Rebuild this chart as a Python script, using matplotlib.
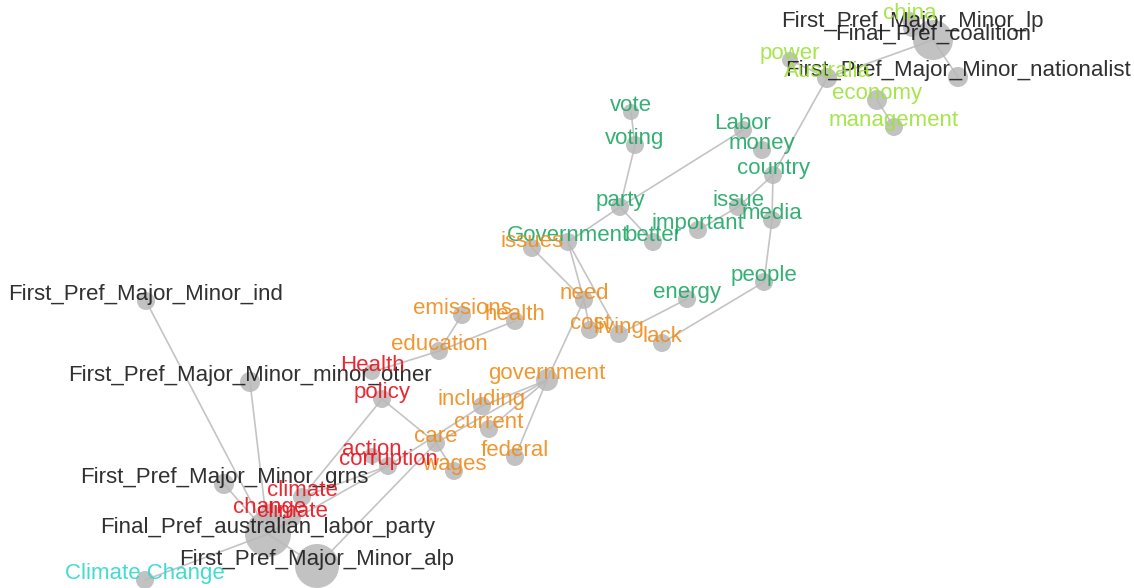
import matplotlib
matplotlib.use("Agg")
import matplotlib.pyplot as plt

plt.rcParams['font.family'] = ['Liberation Sans', 'DejaVu Sans']

# node ids, labels, layout coordinates, node radius and colour group
node_ids = ["lp", "coalition", "nationalist", "ind", "minor_other", "grns", "labor_party", "alp",
            "china", "power", "Australia", "economy", "management",
            "vote", "voting", "Labor", "money", "country", "party", "issue", "media", "important",
            "better", "Government", "people", "energy",
            "issues", "need", "cost", "living", "lack", "emissions", "health", "education",
            "government", "including", "current", "care", "federal", "wages",
            "Health", "policy", "action", "corruption", "climate", "change", "climate2",
            "ClimateChange"]
node_labels = ["First_Pref_Major_Minor_lp", "Final_Pref_coalition", "First_Pref_Major_Minor_nationalist",
               "First_Pref_Major_Minor_ind", "First_Pref_Major_Minor_minor_other",
               "First_Pref_Major_Minor_grns", "Final_Pref_australian_labor_party",
               "First_Pref_Major_Minor_alp",
               "china", "power", "Australia", "economy", "management",
               "vote", "voting", "Labor", "money", "country", "party", "issue", "media", "important",
               "better", "Government", "people", "energy",
               "issues", "need", "cost", "living", "lack", "emissions", "health", "education",
               "government", "including", "current", "care", "federal", "wages",
               "Health", "policy", "action", "corruption", "climate", "change", "climate",
               "Climate Change"]
node_x = [912, 933, 958, 146, 250, 224, 268, 317,
          910, 790, 827, 877, 894,
          631, 635, 743, 762, 773, 620, 738, 772, 698, 653, 568, 764, 687,
          532, 584, 590, 619, 662, 462, 515, 439, 547, 482, 489, 436, 515, 454,
          372, 382, 372, 388, 302, 270, 292,
          145]
node_y = [28, 40, 77, 301, 382, 484, 534, 566,
          20, 60, 78, 100, 127,
          112, 145, 130, 150, 175, 207, 207, 220, 230, 242, 242, 282, 299,
          248, 300, 330, 334, 343, 315, 321, 351, 380, 406, 429, 443, 457, 471,
          372, 399, 456, 466, 497, 514, 518,
          580]
node_r = [9, 20, 10, 9, 10, 10, 23, 22,
          8, 8, 10, 10, 9,
          8, 9, 9, 9, 9, 9, 9, 9, 9, 9, 9, 9, 9,
          9, 9, 9, 9, 9, 9, 9, 9, 11, 9, 9, 9, 9, 9,
          8, 9, 8, 9, 9, 10, 9,
          9]
node_group = ["meta"] * 8 + ["lightgreen"] * 5 + ["green"] * 13 + ["orange"] * 14 + ["red"] * 7 + ["cyan"]

edges = [("coalition", "lp"), ("coalition", "nationalist"), ("coalition", "Australia"),
         ("coalition", "china"), ("Australia", "power"), ("Australia", "country"),
         ("economy", "management"),
         ("vote", "voting"), ("voting", "party"), ("party", "Labor"), ("party", "better"),
         ("party", "Government"), ("country", "media"), ("media", "people"),
         ("people", "lack"), ("important", "issue"), ("issue", "country"),
         ("Government", "need"), ("Government", "living"), ("issues", "need"),
         ("need", "cost"), ("need", "government"), ("living", "energy"),
         ("emissions", "education"), ("education", "health"), ("education", "Health"),
         ("government", "federal"), ("government", "current"), ("government", "including"),
         ("government", "care"), ("policy", "care"), ("care", "wages"), ("alp", "care"),
         ("corruption", "including"), ("climate", "corruption"), ("policy", "climate"),
         ("action", "corruption"),
         ("ind", "labor_party"), ("minor_other", "labor_party"), ("grns", "labor_party"),
         ("ClimateChange", "labor_party"), ("labor_party", "alp"), ("change", "labor_party"),
         ("climate2", "labor_party"), ("labor_party", "corruption")]

colours = {"meta": "#1a1a1a", "lightgreen": "#9de33a", "green": "#1fa866",
           "orange": "#f08c1c", "red": "#e8121c", "cyan": "#2fd8cc"}

DPI = 100
fig = plt.figure(figsize=(11.34, 5.88), dpi=DPI)
ax = fig.add_axes([0, 0, 1, 1])
ax.set_xlim(0, 1134)
ax.set_ylim(588, 0)
ax.axis("off")

pos = {n: (x, y) for n, x, y in zip(node_ids, node_x, node_y)}

# edges
for a, b in edges:
    ax.plot([pos[a][0], pos[b][0]], [pos[a][1], pos[b][1]], color="#c4c4c4", lw=1.2,
            zorder=1, solid_capstyle="round")

# nodes
sizes = [(2 * r * 72 / DPI) ** 2 for r in node_r]
ax.scatter(node_x, node_y, s=sizes, color="#b8b8b8", alpha=0.85, linewidths=0, zorder=2)

# labels
for lab, x, y, g in zip(node_labels, node_x, node_y, node_group):
    ax.annotate(lab, (x, y), xytext=(0, 4.5), textcoords="offset points",
                ha="center", va="center", fontsize=16, color=colours[g], alpha=0.9, zorder=3)

fig.savefig("out.png", dpi=DPI)
